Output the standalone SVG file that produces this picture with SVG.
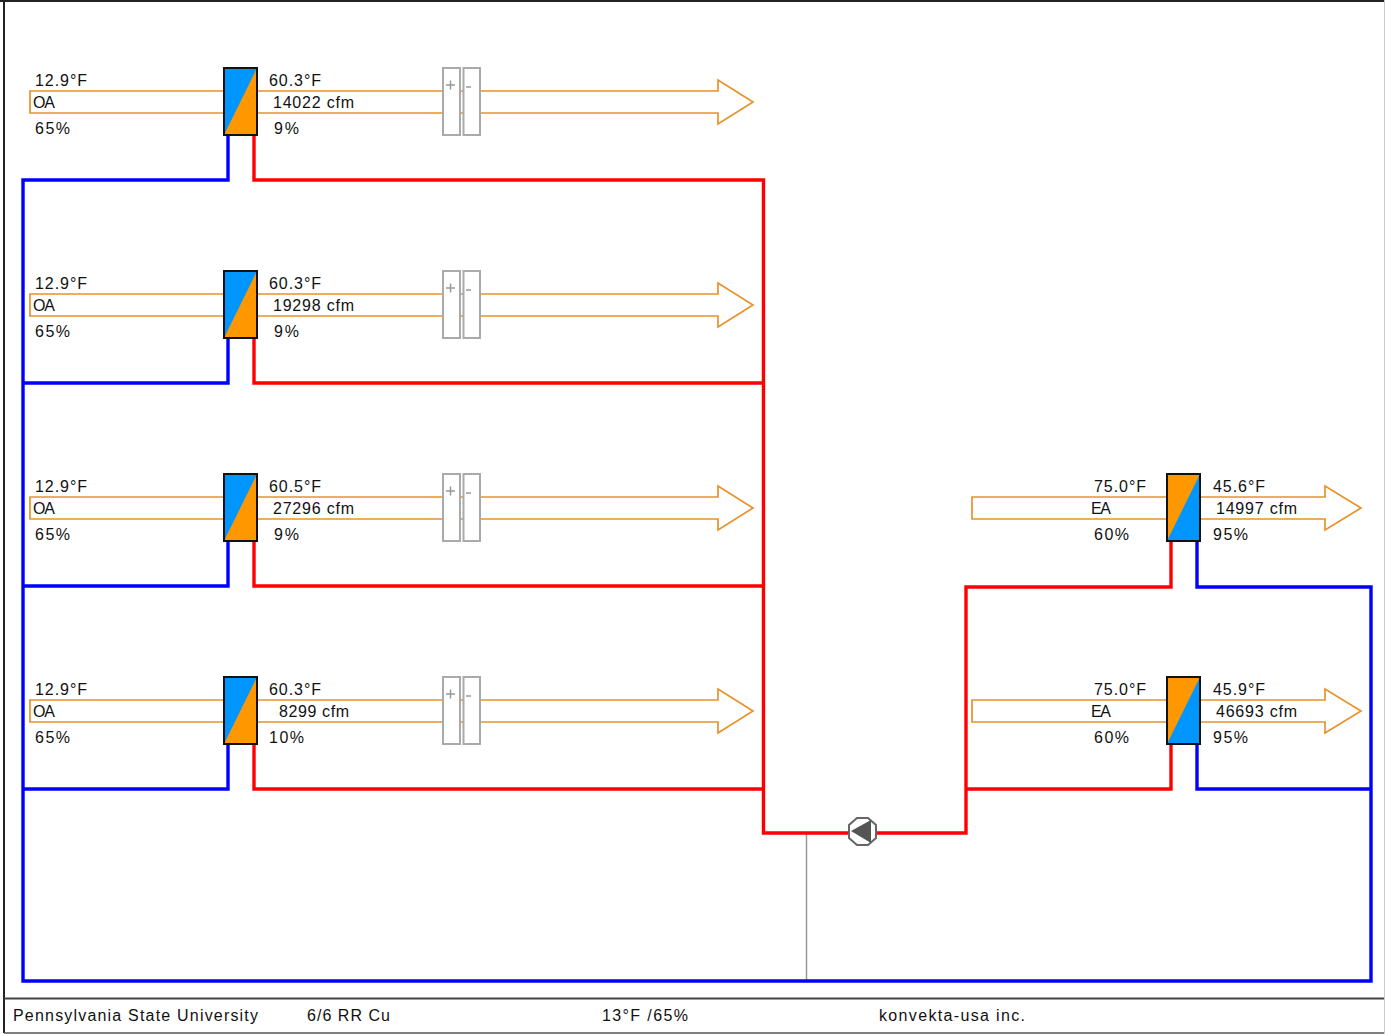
<svg xmlns="http://www.w3.org/2000/svg" xmlns:xlink="http://www.w3.org/1999/xlink" width="1385" height="1034" viewBox="0 0 1385 1034">
<style>
text{font-family:"Liberation Sans",Arial,sans-serif;font-size:16px;fill:#111}
.air{fill:none;stroke:#e8922a;stroke-width:1.7}
.hot{fill:none;stroke:#f00;stroke-width:3.4;stroke-linejoin:miter}
.cold{fill:none;stroke:#00f;stroke-width:3.4;stroke-linejoin:miter}
.coil{fill:#fff;stroke:#aaa;stroke-width:2}
.box{stroke:#111;stroke-width:2;fill:none}
</style>
<defs>
<g id="hxL"><rect x="224" y="0" width="33" height="67" fill="#0096ff"/><path d="M257 0V67H224Z" fill="#ff9800"/><rect class="box" x="224" y="0" width="33" height="67"/></g>
<g id="hxR"><rect x="1167" y="0" width="33" height="67" fill="#0096ff"/><path d="M1200 0H1167V67Z" fill="#ff9800"/><rect class="box" x="1167" y="0" width="33" height="67"/></g>
<g id="coils"><rect class="coil" x="443" y="0" width="17" height="67"/><rect class="coil" x="463.500" y="0" width="16.500" height="67"/><path d="M446 17h9M450.500 12.500v9M466 19h5" stroke="#999" stroke-width="1.500" fill="none"/></g>
</defs>
<rect width="1385" height="1034" fill="#fff"/>
<g id="frame" fill="none"><path d="M4 1V1033" stroke="#222" stroke-width="2"/><path d="M0 1H1385" stroke="#222" stroke-width="2"/><path d="M4 998.500H1385" stroke="#444" stroke-width="2"/><path d="M4 1033H1385" stroke="#555" stroke-width="1.500"/><path d="M1384.500 0V1034" stroke="#ccc"/></g>
<g id="connectors">
<path class="air" d="M224 91H30V113H224M257 91H718V80L753 102L718 124V113H257"/>
<path class="air" d="M224 294H30V316H224M257 294H718V283L753 305L718 327V316H257"/>
<path class="air" d="M224 497H30V519H224M257 497H718V486L753 508L718 530V519H257"/>
<path class="air" d="M224 700H30V722H224M257 700H718V689L753 711L718 733V722H257"/>
<path class="air" d="M1167 497H972V519H1167M1200 497H1325V486L1361 508L1325 530V519H1200"/>
<path class="air" d="M1167 700H972V722H1167M1200 700H1325V689L1361 711L1325 733V722H1200"/>
<path d="M806.500 833V981" stroke="#999" stroke-width="1.500" fill="none"/>
<path class="cold" d="M228 135V180H23V981H1371V587H1197V541"/>
<path class="cold" d="M228 338V383H23M228 541V586H23M228 744V789H23M1197 744V789H1371"/>
<path class="hot" d="M254 135V180H763.500V833H848M876 833H966V587H1171V541"/>
<path class="hot" d="M254 338V383H763.500M254 541V586H763.500M254 744V789H763.500M1171 744V789H966"/>
</g>
<g id="oa1"><use xlink:href="#hxL" y="68"/><use xlink:href="#coils" y="68"/>
<text x="35" y="85.500" textLength="52">12.9°F</text><text x="33" y="108" textLength="22">OA</text><text x="35" y="134" textLength="35">65%</text>
<text x="269" y="85.500" textLength="52">60.3°F</text><text x="273" y="108" textLength="81">14022 cfm</text><text x="274" y="134" textLength="25">9%</text></g>
<g id="oa2"><use xlink:href="#hxL" y="271"/><use xlink:href="#coils" y="271"/>
<text x="35" y="288.500" textLength="52">12.9°F</text><text x="33" y="311" textLength="22">OA</text><text x="35" y="337" textLength="35">65%</text>
<text x="269" y="288.500" textLength="52">60.3°F</text><text x="273" y="311" textLength="81">19298 cfm</text><text x="274" y="337" textLength="25">9%</text></g>
<g id="oa3"><use xlink:href="#hxL" y="474"/><use xlink:href="#coils" y="474"/>
<text x="35" y="491.500" textLength="52">12.9°F</text><text x="33" y="514" textLength="22">OA</text><text x="35" y="540" textLength="35">65%</text>
<text x="269" y="491.500" textLength="52">60.5°F</text><text x="273" y="514" textLength="81">27296 cfm</text><text x="274" y="540" textLength="25">9%</text></g>
<g id="oa4"><use xlink:href="#hxL" y="677"/><use xlink:href="#coils" y="677"/>
<text x="35" y="694.500" textLength="52">12.9°F</text><text x="33" y="717" textLength="22">OA</text><text x="35" y="743" textLength="35">65%</text>
<text x="269" y="694.500" textLength="52">60.3°F</text><text x="279" y="717" textLength="70">8299 cfm</text><text x="269" y="743" textLength="35">10%</text></g>
<g id="ea1"><use xlink:href="#hxR" y="474"/>
<text x="1094" y="491.500" textLength="52">75.0°F</text><text x="1091" y="514" textLength="20">EA</text><text x="1094" y="540" textLength="35">60%</text>
<text x="1213" y="491.500" textLength="52">45.6°F</text><text x="1216" y="514" textLength="81">14997 cfm</text><text x="1213" y="540" textLength="35">95%</text></g>
<g id="ea2"><use xlink:href="#hxR" y="677"/>
<text x="1094" y="694.500" textLength="52">75.0°F</text><text x="1091" y="717" textLength="20">EA</text><text x="1094" y="743" textLength="35">60%</text>
<text x="1213" y="694.500" textLength="52">45.9°F</text><text x="1216" y="717" textLength="81">46693 cfm</text><text x="1213" y="743" textLength="35">95%</text></g>
<g id="pump"><path d="M857 818H868L876 825V838L868 845H857L849 838V825Z" fill="#fff" stroke="#666" stroke-width="2"/><path d="M851 831L871 820V843Z" fill="#555"/></g>
<g id="footer">
<text x="13" y="1021" textLength="245">Pennsylvania State University</text>
<text x="307" y="1021" textLength="83">6/6 RR Cu</text>
<text x="602" y="1021" textLength="86">13°F /65%</text>
<text x="879" y="1021" textLength="146">konvekta-usa inc.</text>
</g>
</svg>
